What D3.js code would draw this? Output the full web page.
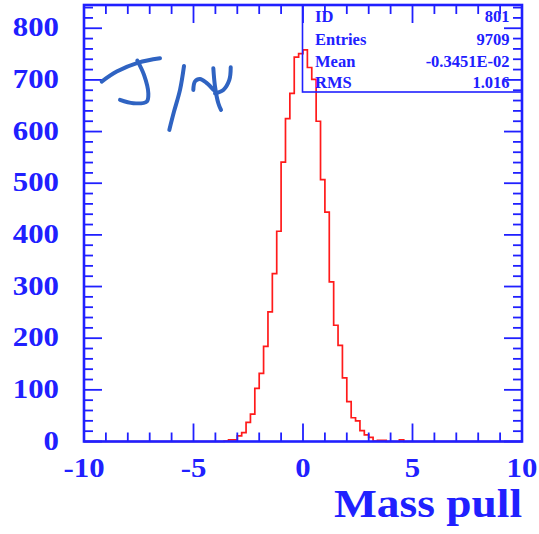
<!DOCTYPE html>
<html>
<head>
<meta charset="utf-8">
<script src="https://cdn.jsdelivr.net/npm/d3@7"></script>
<style>
  html, body { margin: 0; padding: 0; background: #ffffff; }
  svg { display: block; }
</style>
</head>
<body>
<svg id="chart" width="539" height="534"></svg>
<script>
// Histogram of the J/psi mass pull, 0.2-wide bins on [-10, 10]
const xDomain = [-10, 10];
const yDomain = [0, 845];
const binWidth = 0.2;
const firstFilledBin = -3.6;           // low edge of the first listed bin
const binCounts = [
  1, 3, 3, 11, 17, 37, 53, 103, 132, 184,
  251, 325, 407, 541, 625, 674, 744, 751, 758, 724,
  701, 620, 507, 444, 309, 225, 186, 123, 77, 46,
  40, 21, 13, 8, 1, 2, 2, 0, 0, 0, 3
];
const xTickLabels = ["-10", "-5", "0", "5", "10"];
const yTickLabels = ["0", "100", "200", "300", "400", "500", "600", "700", "800"];
const statNames = ["ID", "Entries", "Mean", "RMS"];
const statValues = ["801", "9709", "-0.3451E-02", "1.016"];
const axisTitle = "Mass pull";

const blue = "#2020ff";
const red = "#ff1a1a";
const ink = "#2f63c2";
const serif = "'Liberation Serif', 'Times New Roman', Times, serif";

const svg = d3.select("#chart");
const frame = { left: 84, right: 522, top: 5, bottom: 441.5 };

const x = d3.scaleLinear().domain(xDomain).range([frame.left, frame.right]);
const y = d3.scaleLinear().domain(yDomain).range([frame.bottom, frame.top]);

// full set of bins over the axis range (empty outside the listed ones)
const nBins = Math.round((xDomain[1] - xDomain[0]) / binWidth);
const offset = Math.round((firstFilledBin - xDomain[0]) / binWidth);
const bins = d3.range(nBins).map(i => {
  const j = i - offset;
  return { lo: xDomain[0] + i * binWidth, n: (j >= 0 && j < binCounts.length) ? binCounts[j] : 0 };
});
const stepPts = bins.map(b => [b.lo, b.n]).concat([[xDomain[1], 0]]);

const line = d3.line()
  .x(d => x(d[0]))
  .y(d => y(d[1]))
  .curve(d3.curveStepAfter);

svg.append("path")
  .datum(stepPts)
  .attr("d", line)
  .attr("fill", "none")
  .attr("stroke", red)
  .attr("stroke-width", 1.7);

// frame with ticks on all four sides
const g = svg.append("g").attr("stroke", blue);

const xTicks = d3.range(xDomain[0], xDomain[1] + 0.001, 1);
const yTicks = d3.range(0, yDomain[1], 20);
const majorLen = 18, minorLen = 9;

g.selectAll("line.xb").data(xTicks).join("line")
  .attr("x1", d => x(d)).attr("x2", d => x(d))
  .attr("y1", frame.bottom)
  .attr("y2", d => frame.bottom - (d % 5 === 0 ? majorLen : minorLen))
  .attr("stroke-width", 1.8);
g.selectAll("line.xt").data(xTicks).join("line")
  .attr("x1", d => x(d)).attr("x2", d => x(d))
  .attr("y1", frame.top)
  .attr("y2", d => frame.top + (d % 5 === 0 ? majorLen : minorLen))
  .attr("stroke-width", 1.8);
g.selectAll("line.yl").data(yTicks).join("line")
  .attr("y1", d => y(d)).attr("y2", d => y(d))
  .attr("x1", frame.left)
  .attr("x2", d => frame.left + (d % 100 === 0 ? majorLen : minorLen))
  .attr("stroke-width", 1.8);
g.selectAll("line.yr").data(yTicks).join("line")
  .attr("y1", d => y(d)).attr("y2", d => y(d))
  .attr("x1", frame.right)
  .attr("x2", d => frame.right - (d % 100 === 0 ? majorLen : minorLen))
  .attr("stroke-width", 1.8);

g.append("rect")
  .attr("x", frame.left).attr("y", frame.top)
  .attr("width", frame.right - frame.left)
  .attr("height", frame.bottom - frame.top)
  .attr("fill", "none")
  .attr("stroke-width", 2.6);

// tick labels
const labelFont = 28;
svg.append("g").selectAll("text").data(xTickLabels).join("text")
  .attr("transform", d => `translate(${x(+d)},477) scale(1.1,1)`)
  .attr("text-anchor", "middle")
  .attr("font-family", serif).attr("font-weight", "bold")
  .attr("font-size", labelFont).attr("fill", blue)
  .text(d => d);

svg.append("g").selectAll("text").data(yTickLabels).join("text")
  .attr("transform", d => `translate(59,${y(+d) + 8}) scale(1.1,1)`)
  .attr("text-anchor", "end")
  .attr("font-family", serif).attr("font-weight", "bold")
  .attr("font-size", labelFont).attr("fill", blue)
  .text(d => d);

// axis title
svg.append("text")
  .attr("x", frame.right).attr("y", 517)
  .attr("text-anchor", "end")
  .attr("font-family", serif).attr("font-weight", "bold")
  .attr("font-size", 40).attr("fill", blue)
  .attr("textLength", 188).attr("lengthAdjust", "spacingAndGlyphs")
  .text(axisTitle);

// statistics box
const box = { left: 302.5, bottom: 92 };
svg.append("rect")
  .attr("x", box.left).attr("y", frame.top)
  .attr("width", frame.right - box.left)
  .attr("height", box.bottom - frame.top)
  .attr("fill", "none").attr("stroke", blue).attr("stroke-width", 1.6);

const statRows = statNames.map((n, i) => ({ name: n, value: statValues[i], i }));
const rowBase = [21.7, 45, 66.7, 88.3];
const sg = svg.append("g")
  .attr("font-family", serif).attr("font-weight", "bold")
  .attr("font-size", 16.5).attr("fill", blue);
sg.selectAll("text.n").data(statRows).join("text")
  .attr("x", 315).attr("y", d => rowBase[d.i]).text(d => d.name);
sg.selectAll("text.v").data(statRows).join("text")
  .attr("x", 509.5).attr("y", d => rowBase[d.i])
  .attr("text-anchor", "end").text(d => d.value);

// handwritten J/psi note, anchored in data space near the upper left
const note = svg.append("g")
  .attr("transform", `translate(${x(-9.2)},${y(700)})`)
  .attr("fill", "none").attr("stroke", ink)
  .attr("stroke-width", 4).attr("stroke-linecap", "round")
  .attr("stroke-linejoin", "round");
note.append("title").text("J/ψ");
const pen = d3.line().curve(d3.curveCatmullRom.alpha(0.5));
const strokes = [
  [[0.2, 1.7], [15.2, -8.3], [36.8, -17.3], [58.5, -21.7]],
  [[35.8, -19.3], [42.5, -5], [46.8, 13.3], [45.2, 21.7], [31.8, 23.3], [18.5, 20]],
  [[82.5, -14], [78.5, 10], [72.5, 31.7], [67.8, 50]],
  [[91.8, 10], [93.5, 1.5], [98.5, -1], [105, 3], [112, 10]],
  [[111.8, -11.7], [113.5, 6.7], [116.8, 23.3], [119.5, 30]],
  [[129.2, -12.7], [127.8, 0], [121.8, 10], [113.5, 13.3]]
];
note.selectAll("path").data(strokes).join("path").attr("d", pen);
</script>
</body>
</html>
